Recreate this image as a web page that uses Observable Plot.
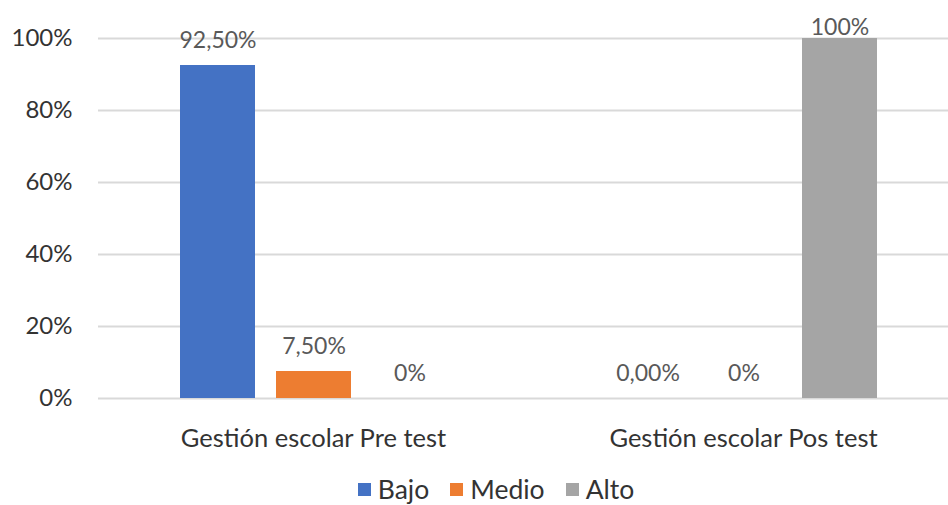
<!DOCTYPE html>
<html>
<head>
<meta charset="utf-8">
<script src="https://cdn.jsdelivr.net/npm/d3@7"></script>
<script src="https://cdn.jsdelivr.net/npm/@observablehq/plot@0.6"></script>
<style>
  html, body { margin: 0; padding: 0; background: #fff; overflow: hidden; }
  body { width: 948px; height: 505px; font-family: Lato, "Open Sans", sans-serif; }
  #chart { width: 958px; }
  #chart svg { display: block; max-width: none !important; }
  #legend { width: 948px; display: flex; justify-content: center; margin-left: 22px; margin-top: 3px; line-height: 1.1; }
  #legend span { margin-right: 21px !important; }
  #legend span:last-child { margin-right: 0 !important; }
  #legend span svg { margin-right: 7px !important; }
</style>
</head>
<body>
<div id="chart"></div>
<div id="legend"></div>
<script>
const groups = ["Gestión escolar Pre test", "Gestión escolar Pos test"];
const levels = ["Bajo", "Medio", "Alto"];
const colors = ["#4472C4", "#ED7D31", "#A5A5A5"];
const preValues = [92.5, 7.5, 0];
const posValues = [0, 0, 100];
const preLabels = ["92,50%", "7,50%", "0%"];
const posLabels = ["0,00%", "0%", "100%"];
const yTicks = [0, 20, 40, 60, 80, 100];

const data = [];
levels.forEach((lv, i) => data.push({group: groups[0], level: lv, value: preValues[i], label: preLabels[i]}));
levels.forEach((lv, i) => data.push({group: groups[1], level: lv, value: posValues[i], label: posLabels[i]}));

const chart = Plot.plot({
  width: 958,
  height: 470,
  marginLeft: 98,
  marginRight: 0,
  marginTop: 38,
  marginBottom: 72,
  style: {fontFamily: "Lato, 'Open Sans', sans-serif", background: "#fff", overflow: "visible", maxWidth: "none"},
  fx: {domain: groups, padding: 0, label: null, axis: "bottom", tickSize: 0, tickPadding: 30},
  x: {domain: levels, paddingInner: 0.219, paddingOuter: 0.849, axis: null},
  y: {domain: [0, 100], ticks: yTicks, tickFormat: d => d + "%", tickSize: 0, tickPadding: 26, label: null},
  color: {domain: levels, range: colors},
  marks: [
    Plot.ruleY(yTicks, {stroke: "#d9d9d9", strokeWidth: 2}),
    Plot.barY(data, {fx: "group", x: "level", y: "value", fill: "level"}),
    Plot.text(data, {fx: "group", x: "level", y: d => Math.min(d.value, 96), dy: -25, text: "label", fill: "#595959", fontSize: 23})
  ]
});
chart.querySelectorAll('[aria-label="y-axis tick label"]').forEach(el => { el.style.fontSize = "24px"; el.style.fill = "#333"; });
chart.querySelectorAll('[aria-label="fx-axis tick label"]').forEach(el => { el.style.fontSize = "25.5px"; el.style.fill = "#333"; });
document.getElementById("chart").appendChild(chart);

const legend = Plot.legend({
  color: {domain: levels, range: colors},
  swatchSize: 13,
  style: {fontFamily: "Lato, 'Open Sans', sans-serif", fontSize: "26.5px", color: "#333"}
});
document.getElementById("legend").appendChild(legend);
</script>
</body>
</html>
